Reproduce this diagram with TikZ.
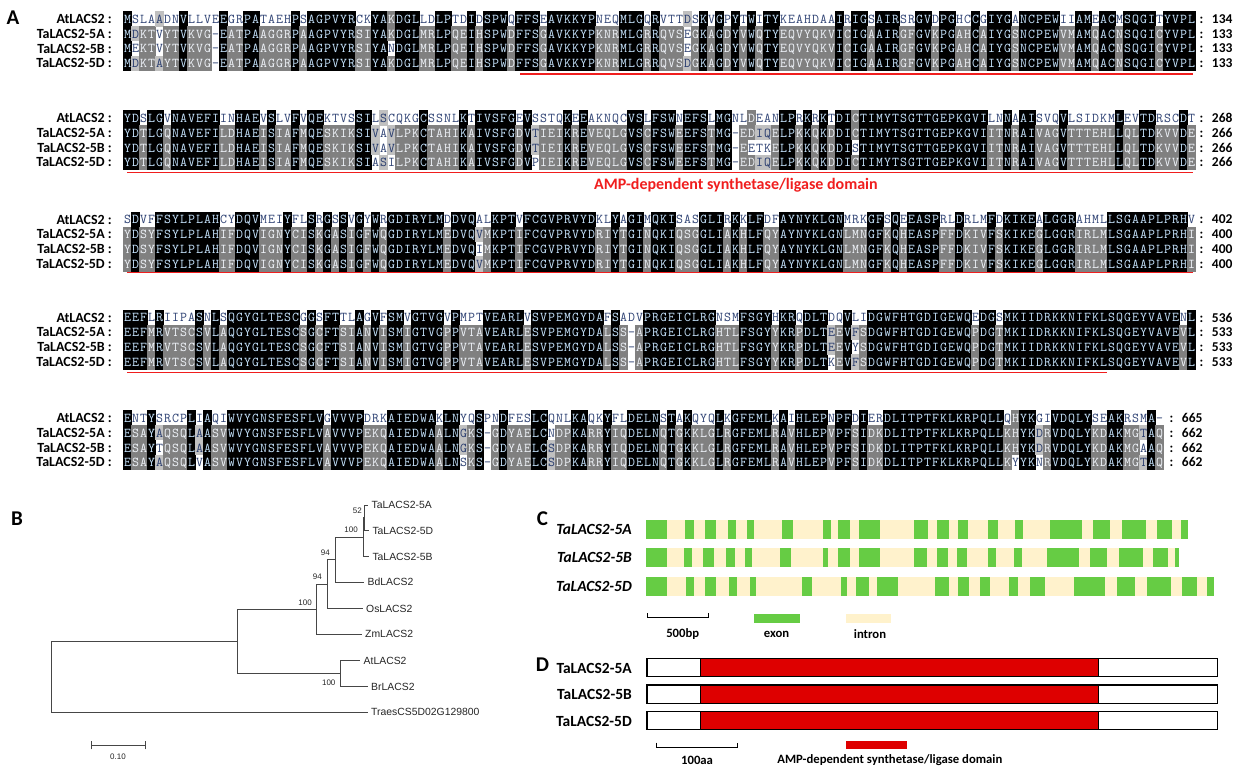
\documentclass[tikz,border=0pt]{standalone}
\usepackage{fontspec}
\setmainfont{Carlito}
\newfontfamily\arialf{Liberation Sans}
\newcommand\fs[1]{\fontsize{#1}{#1}\selectfont}
\definecolor{alk}{RGB}{0,0,0}
\definecolor{ald}{RGB}{128,128,128}
\definecolor{allg}{RGB}{192,192,192}
\definecolor{albt}{RGB}{200,230,255}
\definecolor{aldt}{RGB}{240,244,250}
\definecolor{allt}{RGB}{40,60,110}
\definecolor{alwt}{RGB}{45,65,115}
\definecolor{exongreen}{RGB}{102,204,68}
\definecolor{introncol}{RGB}{255,242,204}
\definecolor{domred}{RGB}{222,0,0}
\definecolor{linered}{RGB}{240,30,30}
\definecolor{treecol}{RGB}{70,70,70}
\tikzset{
  res/.style={font=\fs{13.5}\ttfamily, inner sep=0pt, anchor=base},
  lab/.style={font=\fs{14}\bfseries, inner sep=0pt, anchor=east},
  numl/.style={font=\fs{13.5}\bfseries, inner sep=0pt, anchor=west},
  panel/.style={font=\fs{21}\bfseries, inner sep=0pt},
  leaf/.style={font=\arialf\fs{10.4}, inner xsep=3.5pt, inner ysep=0pt, text height=7.5pt, text depth=0pt, anchor=west, text=black!85},
  bs/.style={font=\arialf\fs{8}, inner sep=0pt, anchor=east, text=black!85},
  gl/.style={font=\fs{15.5}\bfseries\itshape, inner sep=0pt, anchor=east},
  dl/.style={font=\fs{15.5}\bfseries, inner sep=0pt, anchor=east},
  leg/.style={font=\fs{12.7}\bfseries, inner sep=0pt},
  redline/.style={draw=linered, line width=1.6pt},
  tree/.style={draw=treecol, line width=0.9pt},
}
\def\alx{123.5}
\def\alw{8.0}
\def\alnone{none}
\newcommand\alcell[5]{%
  \def\albg{#3}%
  \ifx\albg\alnone\else
    \fill[#3] ({\alx+(#1-1)*\alw-0.25},{#2-7.6}) rectangle ({\alx+#1*\alw+0.25},{#2+7.6});
  \fi
  \node[res,text=#4] at ({\alx+(#1-0.5)*\alw},{#2+4.4}) {#5};}
\ExplSyntaxOn
\str_new:N \l__al_sa_str
\str_new:N \l__al_sb_str
\str_new:N \l__al_sc_str
\str_new:N \l__al_sd_str
\str_new:N \l__al_ca_str
\str_new:N \l__al_cb_str
\str_new:N \l__al_cc_str
\str_new:N \l__al_cd_str
\str_new:N \l__al_cons_str
\int_new:N \l__al_na_int
\int_new:N \l__al_nb_int
\int_new:N \l__al_nc_int
\int_new:N \l__al_nd_int
\int_new:N \l__al_max_int
\tl_new:N \l__al_bg_tl
\tl_new:N \l__al_fg_tl
\cs_new:Npn \__al_eq:NN #1#2 { \str_if_eq:VVTF #1 #2 { 1 } { 0 } }
\cs_new:Npn \__al_cnt:N #1
 {
  \str_if_eq:VnTF #1 { - } { 0 }
   { ( \__al_eq:NN #1 \l__al_ca_str + \__al_eq:NN #1 \l__al_cb_str
     + \__al_eq:NN #1 \l__al_cc_str + \__al_eq:NN #1 \l__al_cd_str ) }
 }
\cs_new_protected:Npn \__al_cell:nnNN #1#2#3#4
 {
  \int_case:nnF { #3 }
   {
    { 4 } { \tl_set:Nn \l__al_bg_tl { alk } \tl_set:Nn \l__al_fg_tl { albt } }
    { 3 } { \tl_set:Nn \l__al_bg_tl { ald } \tl_set:Nn \l__al_fg_tl { aldt } }
    { 2 }
     {
      \str_if_eq:VVTF #4 \l__al_cons_str
       { \tl_set:Nn \l__al_bg_tl { allg } \tl_set:Nn \l__al_fg_tl { allt } }
       { \tl_set:Nn \l__al_bg_tl { none } \tl_set:Nn \l__al_fg_tl { alwt } }
     }
   }
   { \tl_set:Nn \l__al_bg_tl { none } \tl_set:Nn \l__al_fg_tl { alwt } }
  \use:x { \exp_not:N \alcell { #1 } { #2 } { \l__al_bg_tl } { \l__al_fg_tl } { \str_use:N #4 } }
 }
\NewDocumentCommand \AlBlock { m m m m m }
 {
  \str_set:Nn \l__al_sa_str {#2}
  \str_set:Nn \l__al_sb_str {#3}
  \str_set:Nn \l__al_sc_str {#4}
  \str_set:Nn \l__al_sd_str {#5}
  \int_step_inline:nn { \str_count:N \l__al_sa_str }
   {
    \str_set:Nx \l__al_ca_str { \str_item:Nn \l__al_sa_str {##1} }
    \str_set:Nx \l__al_cb_str { \str_item:Nn \l__al_sb_str {##1} }
    \str_set:Nx \l__al_cc_str { \str_item:Nn \l__al_sc_str {##1} }
    \str_set:Nx \l__al_cd_str { \str_item:Nn \l__al_sd_str {##1} }
    \int_set:Nn \l__al_na_int { \__al_cnt:N \l__al_ca_str }
    \int_set:Nn \l__al_nb_int { \__al_cnt:N \l__al_cb_str }
    \int_set:Nn \l__al_nc_int { \__al_cnt:N \l__al_cc_str }
    \int_set:Nn \l__al_nd_int { \__al_cnt:N \l__al_cd_str }
    \int_set:Nn \l__al_max_int
     { \int_max:nn { \int_max:nn { \l__al_na_int } { \l__al_nb_int } }
                   { \int_max:nn { \l__al_nc_int } { \l__al_nd_int } } }
    \int_compare:nNnTF { \l__al_na_int } = { \l__al_max_int }
     { \str_set_eq:NN \l__al_cons_str \l__al_ca_str }
     {
      \int_compare:nNnTF { \l__al_nb_int } = { \l__al_max_int }
       { \str_set_eq:NN \l__al_cons_str \l__al_cb_str }
       {
        \int_compare:nNnTF { \l__al_nc_int } = { \l__al_max_int }
         { \str_set_eq:NN \l__al_cons_str \l__al_cc_str }
         { \str_set_eq:NN \l__al_cons_str \l__al_cd_str }
       }
     }
    \__al_cell:nnNN {##1} { \fp_eval:n { #1 } } \l__al_na_int \l__al_ca_str
    \__al_cell:nnNN {##1} { \fp_eval:n { #1 + 14.8 } } \l__al_nb_int \l__al_cb_str
    \__al_cell:nnNN {##1} { \fp_eval:n { #1 + 29.6 } } \l__al_nc_int \l__al_cc_str
    \__al_cell:nnNN {##1} { \fp_eval:n { #1 + 44.4 } } \l__al_nd_int \l__al_cd_str
   }
 }
\ExplSyntaxOff
\begin{document}
\begin{tikzpicture}[x=1pt,y=-1pt]
\useasboundingbox (0,0) rectangle (1245,776);
\fill[white] (0,0) rectangle (1245,776);
% ---------------- Panel A ----------------
\node[panel] (pA) at (13,18) {A};
% block 1
\AlBlock{19}
{MSLAADNVLLVEEGRPATAEHPSAGPVYRCKYAKDGLLDLPTDIDSPWQFFSEAVKKYPNEQMLGQRVTTDSKVGPYTWITYKEAHDAAIRIGSAIRSRGVDPGHCCGIYGANCPEWIIAMEACMSQGITYVPL}
{MDKTVYTVKVG-EATPAAGGRPAAGPVYRSIYAKDGLMRLPQEIHSPWDFFSGAVKKYPKNRMLGRRQVSEGKAGDYVWQTYEQVYQKVICIGAAIRGFGVKPGAHCAIYGSNCPEWVMAMQACNSQGICYVPL}
{MEKTVYTVKVG-EATPAAGGRPAAGPVYRSIYANDGLMRLPQEIHSPWDFFSGAVKKYPKNRMLGRRQVSEGKAGDYVWQTYEQVYQKVICIGAAIRGFGVKPGAHCAIYGSNCPEWVMAMQACNSQGICYVPL}
{MDKTAYTVKVG-EATPAAGGRPAAGPVYRSIYAKDGLMRLPQEIHSPWDFFSGAVKKYPKNRMLGRRQVSDGKAGDYVWQTYEQVYQKVICIGAAIRGFGVKPGAHCAIYGSNCPEWVMAMQACNSQGICYVPL}
% block 2
\AlBlock{118}
{YDSLGVNAVEFIINHAEVSLVFVQEKTVSSILSCQKGCSSNLKTIVSFGEVSSTQKEEAKNQCVSLFSWNEFSLMGNLDEANLPRKRKTDICTIMYTSGTTGEPKGVILNNAAISVQVLSIDKMLEVTDRSCDT}
{YDTLGQNAVEFILDHAEISIAFMQESKIKSIVAVLPKCTAHIKAIVSFGDVTIEIKREVEQLGVSCFSWEEFSTMG-EDIQELPKKQKDDICTIMYTSGTTGEPKGVIITNRAIVAGVTTTEHLLQLTDKVVDE}
{YDTLGQNAVEFILDHAEISIAFMQESKIKSIVAVLPKCTAHIKAIVSFGDVTIEIKREVEQLGVSCFSWEEFSTMG-EETKELPKKQKDDISTIMYTSGTTGEPKGVIITNRAIVAGVTTTEHLLQLTDKVVDE}
{YDTLGQNAVEFILDHAEISIAFMQESKIKSIASILPKCTAHIKAIVSFGDVPIEIKREVEQLGVSCFSWEEFSTMG-EDIQELPKKQKDDICTIMYTSGTTGEPKGVIITNRAIVAGVTTTEHLLQLTDKVVDE}
% block 3
\AlBlock{219.5}
{SDVFFSYLPLAHCYDQVMEIYFLSRGSSVGYWRGDIRYLMDDVQALKPTVFCGVPRVYDKLYAGIMQKISASGLIRKKLFDFAYNYKLGNMRKGFSQEEASPRLDRLMFDKIKEALGGRAHMLLSGAAPLPRHV}
{YDSYFSYLPLAHIFDQVIGNYCISKGASIGFWQGDIRYLMEDVQVMKPTIFCGVPRVYDRIYTGINQKIQSGGLIAKHLFQYAYNYKLGNLMNGFKQHEASPFFDKIVFSKIKEGLGGRIRLMLSGAAPLPRHI}
{YDSYFSYLPLAHIFDQVIGNYCISKGASIGFWQGDIRYLMEDVQIMKPTIFCGVPRVYDRIYTGINQKIQSGGLIAKHLFQYAYNYKLGNLMNGFKQHEASPFFDKIVFSKIKEGLGGRIRLMLSGAAPLPRHI}
{YDSYFSYLPLAHIFDQVIGNYCISKGASIGFWQGDIRYLMEDVQVMKPTIFCGVPRVYDRIYTGINQKIQSGGLIAKHLFQYAYNYKLGNLMNGFKQHEASPFFDKIVFSKIKEGLGGRIRLMLSGAAPLPRHI}
% block 4
\AlBlock{317.5}
{EEFLRIIPASNLSQGYGLTESCGGSFTTLAGVFSMVGTVGVPMPTVEARLVSVPEMGYDAFSADVPRGEICLRGNSMFSGYHKRQDLTDQVLIDGWFHTGDIGEWQEDGSMKIIDRKKNIFKLSQGEYVAVENL}
{EEFMRVTSCSVLAQGYGLTESCSGCFTSIANVISMIGTVGPPVTAVEARLESVPEMGYDALSS-APRGEICLRGHTLFSGYYKRPDLTEEVFSDGWFHTGDIGEWQPDGTMKIIDRKKNIFKLSQGEYVAVEVL}
{EEFMRVTSCSVLAQGYGLTESCSGCFTSIANVISMIGTVGPPVTAVEARLESVPEMGYDALSS-APRGEICLRGHTLFSGYYKRPDLTEEVYSDGWFHTGDIGEWQPDGTMKIIDRKKNIFKLSQGEYVAVEVL}
{EEFMRVTSCSVLAQGYGLTESCSGCFTSIANVISMIGTVGPPVTAVEARLESVPEMGYDALSS-APRGEICLRGHTLFSGYYKRPDLTKEVFSDGWFHTGDIGEWQPDGTMKIIDRKKNIFKLSQGEYVAVEVL}
% block 5
\AlBlock{418}
{ENTYSRCPLIAQIWVYGNSFESFLVGVVVPDRKAIEDWAKLNYQSPNDFESLCQNLKAQKYFLDELNSTAKQYQLKGFEMLKAIHLEPNPFDIERDLITPTFKLKRPQLLQHYKGIVDQLYSEAKRSMA-}
{ESAYAQSQLAASVWVYGNSFESFLVAVVVPEKQAIEDWAALNGKS-GDYAELCNDPKARRYIQDELNQTGKKLGLRGFEMLRAVHLEPVPFSIDKDLITPTFKLKRPQLLKHYKDRVDQLYKDAKMGTAQ}
{ESAYTQSQLAASVWVYGNSFESFLVAVVVPEKQAIEDWAALNGKS-GDYAELCSDPKARRYIQDELNQTGKKLGLRGFEMLRAVHLEPVPFSIDKDLITPTFKLKRPQLLKHYKDRVDQLYKDAKMGAAQ}
{ESAYAQSQLVASVWVYGNSFESFLVAVVVPEKQAIEDWAALNSKS-GDYAELCSDPKARRYIQDELNQTGKKLGLRGFEMLRAVHLEPVPFSIDKDLITPTFKLKRPQLLKYYKNRVDQLYKDAKMGTAQ}
% labels and numbers
\foreach \y/\n/\na/\nb in {19/1/134/133, 118/2/268/266, 219.5/3/402/400, 317.5/4/536/533}{
  \node[lab] (la\n) at (112,\y) {AtLACS2 :};
  \node[lab] (lb\n) at (112,\y+14.8) {TaLACS2-5A :};
  \node[lab] (lc\n) at (112,\y+29.6) {TaLACS2-5B :};
  \node[lab] (ld\n) at (112,\y+44.4) {TaLACS2-5D :};
  \node[numl] (na\n) at (1199.5,\y) {:\hspace{8.5pt}\na};
  \node[numl] (nb\n) at (1199.5,\y+14.8) {:\hspace{8.5pt}\nb};
  \node[numl] (nc\n) at (1199.5,\y+29.6) {:\hspace{8.5pt}\nb};
  \node[numl] (nd\n) at (1199.5,\y+44.4) {:\hspace{8.5pt}\nb};
}
\node[lab] (la5) at (112,418) {AtLACS2 :};
\node[lab] (lb5) at (112,432.8) {TaLACS2-5A :};
\node[lab] (lc5) at (112,447.6) {TaLACS2-5B :};
\node[lab] (ld5) at (112,462.4) {TaLACS2-5D :};
\node[numl] (na5) at (1169.5,418) {:\hspace{8.5pt}665};
\node[numl] (nb5) at (1169.5,432.8) {:\hspace{8.5pt}662};
\node[numl] (nc5) at (1169.5,447.6) {:\hspace{8.5pt}662};
\node[numl] (nd5) at (1169.5,462.4) {:\hspace{8.5pt}662};
% red domain lines
\coordinate (r1a) at (520,73.8);  \coordinate (r1b) at (1193,73.8);
\coordinate (r2a) at (127,172.5); \coordinate (r2b) at (1193,172.5);
\coordinate (r3a) at (127,272.5); \coordinate (r3b) at (1193,272.5);
\coordinate (r4a) at (127,372.5); \coordinate (r4b) at (1107,372.5);
\draw[redline] (r1a) -- (r1b);
\draw[redline] (r2a) -- (r2b);
\draw[redline] (r3a) -- (r3b);
\draw[redline] (r4a) -- (r4b);
\node[font=\fs{16}\bfseries, text=linered, inner sep=0pt, anchor=west] (amp) at (594,185) {AMP-dependent synthetase/ligase domain};
% ---------------- Panel B ----------------
\node[panel] (pB) at (17,519) {B};
\node[leaf] (tA) at (368,505) {TaLACS2-5A};
\node[leaf] (tD) at (368.8,530.5) {TaLACS2-5D};
\node[leaf] (tB) at (368.8,556.3) {TaLACS2-5B};
\node[leaf] (tBd) at (364,582.2) {BdLACS2};
\node[leaf] (tOs) at (362.5,608.4) {OsLACS2};
\node[leaf] (tZm) at (361.5,634.2) {ZmLACS2};
\node[leaf] (tAt) at (360,660.8) {AtLACS2};
\node[leaf] (tBr) at (367.5,686.6) {BrLACS2};
\node[leaf] (tTr) at (367.5,712.2) {TraesCS5D02G129800};
\coordinate (n1) at (364.8,517.75);
\coordinate (n2) at (363.2,537);
\coordinate (n3) at (335,559.6);
\coordinate (n4) at (327.4,584);
\coordinate (n5) at (316.7,609.1);
\coordinate (n6) at (340.6,673.7);
\coordinate (n7) at (237.8,641.4);
\coordinate (root) at (51.4,676.8);
\draw[tree] (n1) |- (tA.west);
\draw[tree] (n1) |- (tD.west);
\draw[tree] (n2) |- (n1);
\draw[tree] (n2) |- (tB.west);
\draw[tree] (n3) |- (n2);
\draw[tree] (n3) |- (tBd.west);
\draw[tree] (n4) |- (n3);
\draw[tree] (n4) |- (tOs.west);
\draw[tree] (n5) |- (n4);
\draw[tree] (n5) |- (tZm.west);
\draw[tree] (n6) |- (tAt.west);
\draw[tree] (n6) |- (tBr.west);
\draw[tree] (n7) |- (n5);
\draw[tree] (n7) |- (n6);
\draw[tree] (root) |- (n7);
\draw[tree] (root) |- (tTr.west);
\node[bs] (b1) at (362,510.5) {52};
\node[bs] (b2) at (358,530) {100};
\node[bs] (b3) at (330,553) {94};
\node[bs] (b4) at (322,577) {94};
\node[bs] (b5) at (312,602.7) {100};
\node[bs] (b6) at (335.6,682.3) {100};
\coordinate (sb1) at (91.2,745.3);
\coordinate (sb2) at (145,745.3);
\draw[tree] (sb1) -- (sb2);
\draw[tree] ([yshift=-4pt]sb1) -- ([yshift=4pt]sb1);
\draw[tree] ([yshift=-4pt]sb2) -- ([yshift=4pt]sb2);
\node[font=\arialf\fs{8}, inner sep=0pt, text=black!85] (sbl) at (118,756.5) {0.10};
% ---------------- Panel C ----------------
\node[panel] (pC) at (542.5,519) {C};
\node[gl] (g1) at (632,529.5) {TaLACS2-5A};
\node[gl] (g2) at (632,557.5) {TaLACS2-5B};
\node[gl] (g3) at (632,586) {TaLACS2-5D};
\begin{scope}[xshift=520pt, x=0.46232pt]
  \fill[introncol] (273,520) rectangle (1445,539);
  \foreach \a/\b in {273/318,357/376,401/425,449/467,490/506,567/590,655/672,687/714,733/779,852/883,903/928,948/970,1012/1033,1070/1088,1147/1215,1240/1277,1303/1354,1377/1410,1430/1445}
    \fill[exongreen] (\a,520) rectangle (\b,539);
  \fill[introncol] (273,548) rectangle (1425,567);
  \foreach \a/\b in {273/318,355/373,396/420,446/464,487/501,563/587,655/667,688/714,733/779,852/881,902/926,946/967,1012/1030,1068/1086,1140/1208,1233/1270,1295/1347,1370/1402,1417/1425}
    \fill[exongreen] (\a,548) rectangle (\b,567);
  \fill[introncol] (273,576.5) rectangle (1500,595.5);
  \foreach \a/\b in {273/318,358/376,401/425,452/470,497/510,610/632,695/707,727/754,772/818,898/927,948/972,995/1016,1058/1078,1103/1135,1198/1265,1292/1330,1356/1408,1432/1465,1485/1500}
    \fill[exongreen] (\a,576.5) rectangle (\b,595.5);
  % legend
  \coordinate (cs1) at (275,617.7);
  \coordinate (cs2) at (408,617.7);
  \draw[line width=1pt] ([yshift=4.5pt]cs1) -- (cs1) -- (cs2) -- ([yshift=4.5pt]cs2);
  \node[leg] (c500) at (352,634) {500bp};
  \fill[exongreen] (507,613.5) rectangle (606,622.5);
  \node[leg] (cex) at (555,634) {exon};
  \fill[introncol] (705,613.5) rectangle (803,622.5);
  \node[leg] (cin) at (757,634) {intron};
  % ---------------- Panel D ----------------
  \foreach \t/\b in {658.3/676.7, 685/703.3, 711.5/729.5}{
    \draw[line width=1.4pt, fill=white] (275,\t) rectangle (1508,\b);
    \filldraw[fill=domred, draw=black, line width=1pt] (391,\t) rectangle (1252,\b);
    \draw[line width=1.4pt] (275,\t) rectangle (1508,\b);
  }
  \coordinate (ds1) at (295,747);
  \coordinate (ds2) at (470,747);
  \draw[line width=1pt] ([yshift=4.5pt]ds1) -- (ds1) -- (ds2) -- ([yshift=4.5pt]ds2);
  \node[leg] (d100) at (383,760.5) {100aa};
  \fill[domred] (705,740.5) rectangle (838,749);
  \node[leg] (damp) at (800,760.5) {AMP-dependent synthetase/ligase domain};
\end{scope}
\node[panel] (pD) at (542.5,665) {D};
\node[dl] (d1) at (632,668) {TaLACS2-5A};
\node[dl] (d2) at (632,694.5) {TaLACS2-5B};
\node[dl] (d3) at (632,721) {TaLACS2-5D};
\end{tikzpicture}
\end{document}
